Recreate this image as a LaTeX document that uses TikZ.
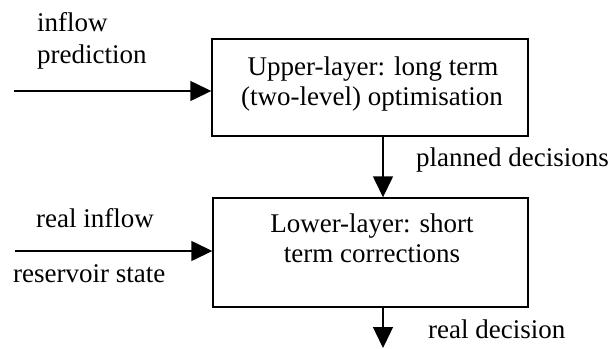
\documentclass[tikz,border=0pt]{standalone}
\usepackage{fontspec}
\setmainfont{Liberation Serif}
\usetikzlibrary{arrows.meta}
\begin{document}
\begin{tikzpicture}[x=1pt,y=-1pt,
  boxst/.style={draw, line width=1.4pt, inner sep=0pt},
  lbl/.style={inner sep=0pt, font=\fontsize{27}{30}\selectfont},
  arr/.style={line width=1.4pt, -{Triangle[length=21pt,width=20pt]}}]
\useasboundingbox (0,0) rectangle (612,348);
% boxes
\node[boxst, minimum width=316pt, minimum height=97pt] (upbox) at (370,87.5) {};
\node[boxst, minimum width=315pt, minimum height=109pt] (lowbox) at (370.5,252.5) {};
% box texts
\node[lbl, anchor=base] (up1) at (373,75) {Upper-layer: long term};
\node[lbl, anchor=base] (up2) at (372,105) {(two-level) optimisation};
\node[lbl, anchor=base] (lo1) at (372,232) {Lower-layer: short};
\node[lbl, anchor=base] (lo2) at (372,262) {term corrections};
% side labels
\node[lbl, anchor=base west] (inf) at (37,31) {inflow};
\node[lbl, anchor=base west] (pred) at (37,63) {prediction};
\node[lbl, anchor=base west] (rin) at (36,227) {real inflow};
\node[lbl, anchor=base west] (rst) at (13,282) {reservoir state};
\node[lbl, anchor=base west] (plan) at (416,166) {planned decisions};
\node[lbl, anchor=base west] (rdec) at (428,338) {real decision};
% connector ends
\coordinate (in1) at (14,91);
\coordinate (in2) at (15,251);
\coordinate (mid) at (383,0);
\coordinate (out) at (383,348);
% connectors
\draw[arr] (in1) -- (in1 -| upbox.west);
\draw[arr] (in2) -- (in2 -| lowbox.west);
\draw[arr] (upbox.south -| mid) -- (lowbox.north -| mid);
\draw[arr] (lowbox.south -| mid) -- (out);
\end{tikzpicture}
\end{document}
